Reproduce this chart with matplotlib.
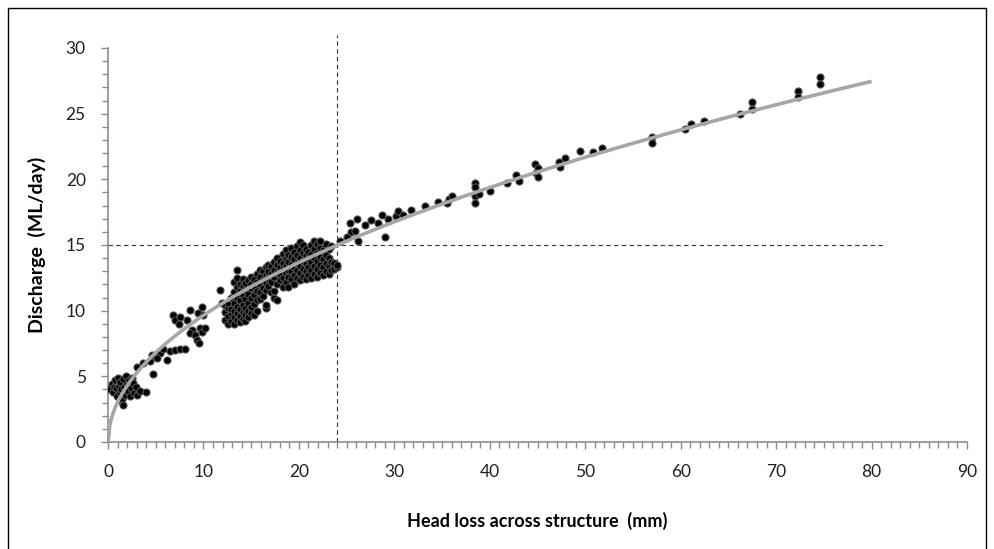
import numpy as np
import matplotlib
matplotlib.use("Agg")
import matplotlib.pyplot as plt
from matplotlib.ticker import MultipleLocator
from matplotlib.patches import Rectangle

plt.rcParams["font.family"] = ["Lato", "DejaVu Sans"]

head_low = [0.1, 0.4, 0.5, 0.6, 0.7, 0.8, 0.9, 1.0, 1.1, 1.2, 1.2, 1.3, 1.4, 1.5,
            1.6, 1.6, 1.7, 1.8, 1.9, 2.0, 2.1, 2.2, 2.3, 2.4, 2.5, 2.6, 2.7, 2.9,
            3.0, 3.3, 4.0]
q_low = [4.0, 4.4, 3.8, 4.2, 4.7, 4.1, 3.5, 4.9, 4.3, 3.7, 3.2, 4.6, 4.0, 3.3,
         4.8, 2.8, 4.2, 3.6, 5.0, 4.4, 3.9, 4.7, 3.5, 4.1, 4.9, 4.5, 3.7, 4.2,
         3.6, 3.9, 3.8]

head_mid = [3.0, 3.7, 4.4, 4.75, 4.6, 5.45, 5.8, 5.1, 6.15, 6.5, 7.0, 7.55, 8.1,
            6.85, 7.0, 7.55, 7.4, 8.25, 8.6, 8.8, 8.6, 9.1, 9.3, 9.5, 9.65, 9.8,
            9.45, 9.8, 10.0, 10.2, 11.75, 11.9]
q_mid = [5.7, 6.0, 6.2, 5.2, 6.6, 6.75, 7.1, 6.4, 6.25, 6.9, 7.0, 7.1, 7.1,
         9.67, 9.3, 9.55, 9.0, 9.3, 10.05, 8.5, 8.3, 8.15, 7.77, 7.5, 8.66, 8.35,
         9.8, 10.3, 9.67, 8.66, 11.6, 10.55]

# dense cluster, grouped by head-loss column
cluster = {
    12.3: [9.3, 9.9, 10.4],
    12.6: [9.0, 9.6, 10.2, 10.6],
    12.9: [9.2, 9.8, 10.1, 11.0],
    13.2: [9.0, 9.5, 10.0, 10.6, 11.4, 12.2],
    13.5: [9.3, 9.8, 10.3, 11.0, 11.8, 12.5, 13.1],
    13.8: [9.1, 9.6, 10.1, 10.8, 11.5, 12.0],
    14.1: [9.4, 9.9, 10.4, 11.2, 11.9, 12.4],
    14.4: [9.2, 9.7, 10.2, 10.9, 11.6, 12.1],
    14.7: [9.5, 10.0, 10.6, 11.3, 12.3],
    15.0: [9.8, 10.3, 11.0, 11.7, 12.0, 12.6],
    15.3: [9.7, 10.5, 11.2, 11.9, 12.4],
    15.6: [10.0, 10.8, 11.5, 12.2, 12.8],
    15.9: [10.9, 11.4, 12.0, 12.6, 13.1],
    16.2: [11.1, 11.7, 12.3, 13.0],
    16.5: [10.2, 10.4, 11.6, 12.1, 12.7, 13.3],
    16.8: [11.9, 12.5, 13.0, 13.5],
    17.1: [11.4, 12.2, 12.8, 13.4],
    17.4: [11.0, 11.5, 12.6, 13.1, 13.7],
    17.7: [10.8, 12.0, 12.9, 13.5, 14.0],
    18.0: [12.3, 12.8, 13.3, 13.8],
    18.3: [11.8, 12.5, 13.2, 13.6, 14.3],
    18.6: [12.2, 12.9, 13.4, 14.0, 14.6],
    18.9: [11.8, 12.6, 13.1, 13.7, 14.2],
    19.2: [12.4, 13.0, 13.5, 14.1, 14.8],
    19.5: [12.0, 12.7, 13.3, 13.9, 14.5],
    19.8: [12.5, 13.1, 13.6, 14.2, 14.9],
    20.1: [12.3, 12.9, 13.4, 14.0, 14.6, 15.2],
    20.4: [12.6, 13.2, 13.8, 14.4, 15.0],
    20.7: [12.4, 13.0, 13.6, 14.2, 14.7],
    21.0: [12.7, 13.3, 13.9, 14.5],
    21.3: [12.5, 13.1, 13.7, 14.3, 15.0],
    21.6: [12.8, 13.4, 14.0, 14.7, 15.3],
    21.9: [12.6, 13.2, 13.8, 14.4, 15.1],
    22.2: [12.9, 13.5, 14.1, 14.8, 15.3],
    22.5: [12.7, 13.3, 13.9, 14.6],
    22.8: [13.0, 13.6, 14.2, 15.1],
    23.1: [12.8, 13.4, 14.0, 14.7],
    23.4: [13.1, 13.7, 14.9],
    23.7: [13.2, 13.6],
    24.0: [13.3, 13.5],
}

head_high = [24.3, 25.4, 26.1, 25.5, 26.2, 25.0, 25.9, 26.9, 27.6, 28.3, 28.7,
             29.0, 29.3, 30.2, 30.4, 30.9, 31.7, 33.2, 34.6, 35.5, 35.7, 36.0,
             38.4, 38.4, 38.4, 38.4, 38.9, 40.0, 41.8, 42.7, 43.1, 44.7, 45.1,
             44.8, 45.1, 47.3, 47.4, 47.9, 49.5, 50.8, 51.8, 57.0, 57.0, 60.5,
             61.1, 62.4, 66.2, 67.5, 67.5, 72.3, 72.3, 74.6, 74.6]
q_high = [15.3, 16.65, 17.0, 16.0, 15.3, 15.6, 16.1, 16.5, 16.9, 16.65, 17.3,
          15.6, 17.0, 17.2, 17.6, 17.3, 17.7, 18.0, 18.25, 18.2, 18.5, 18.7,
          19.75, 19.45, 18.7, 18.2, 18.9, 19.1, 19.75, 20.3, 19.9, 21.15, 20.9,
          20.5, 20.2, 21.35, 20.95, 21.65, 22.15, 22.05, 22.4, 23.2, 22.8, 23.8,
          24.2, 24.45, 25.0, 25.9, 25.35, 26.7, 26.25, 27.8, 27.25]

# power trendline: Q = a * h^b, drawn to h = 80
fit_a = 3.03
fit_b = 0.503
fit_end = 80

design_head = 24
design_q = 15

head = list(head_low) + list(head_mid) + list(head_high)
q = list(q_low) + list(q_mid) + list(q_high)
for h, qs in cluster.items():
    head += [h] * len(qs)
    q += qs

fig = plt.figure(figsize=(9.94, 5.49), dpi=100)
ax = fig.add_axes([0.1087, 0.1949, 0.8641, 0.7177])

ax.scatter(head, q, s=26, facecolor="black", edgecolor="#555555",
           linewidth=0.8, zorder=3)

hh = np.linspace(0, fit_end, 400)
ax.plot(hh, fit_a * hh ** fit_b, color="#a6a6a6", lw=2.6, zorder=4,
        solid_capstyle="butt")

ax.plot([design_head, design_head], [0, 31], color="#333333", lw=0.8,
        ls=(0, (4, 3)), clip_on=False, zorder=2)
ax.plot([0, 81.2], [design_q, design_q], color="#333333", lw=0.8,
        ls=(0, (4, 3)), zorder=2)

ax.set_xlim(0, 90)
ax.set_ylim(0, 30)
ax.xaxis.set_major_locator(MultipleLocator(10))
ax.xaxis.set_minor_locator(MultipleLocator(1))
ax.yaxis.set_major_locator(MultipleLocator(5))
ax.yaxis.set_minor_locator(MultipleLocator(1))

for side in ["top", "right"]:
    ax.spines[side].set_visible(False)
for side in ["left", "bottom"]:
    ax.spines[side].set_color("#8c8c8c")
    ax.spines[side].set_linewidth(1.2)

ax.tick_params(which="both", direction="out", color="#8c8c8c", width=1.0)
ax.tick_params(which="major", length=5)
ax.tick_params(which="minor", length=4)
ax.tick_params(axis="x", which="major", pad=11, labelsize=12.5, labelcolor="#222222")
ax.tick_params(axis="y", which="major", pad=11, labelsize=12.5, labelcolor="#222222")

ax.set_xlabel("Head loss across structure  (mm)", fontsize=13, fontweight="bold",
              labelpad=23)
ax.set_ylabel("Discharge  (ML/day)", fontsize=14, fontweight="bold", labelpad=14)

# thin frame round the whole figure
fig.patches.append(Rectangle((8 / 994, -0.01), 978 / 994, 1 - 8 / 549 + 0.01,
                             transform=fig.transFigure, fill=False,
                             edgecolor="black", lw=1.0))

fig.savefig("out.png", dpi=100)
